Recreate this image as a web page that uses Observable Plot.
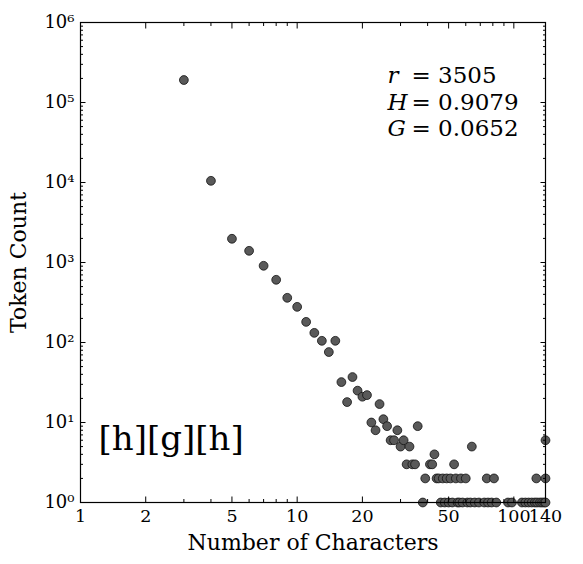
<!DOCTYPE html>
<html><head><meta charset="utf-8">
<script src="https://cdn.jsdelivr.net/npm/d3@7"></script>
<script src="https://cdn.jsdelivr.net/npm/@observablehq/plot@0.6"></script>
<style>html,body{margin:0;padding:0;background:#fff}svg{display:block}</style>
</head><body><div id="chart"></div>
<script>
// Data: number of characters vs token count
const charLengths = [3,4,5,6,7,8,9,10,11,12,13,14,15,16,17,18,19,20,21,22,23,24,25,26,27,28,29,30,31,32,33,34,35,36,
  38,39,41,42,43,44,45,46,47,48,49,50,51,52,53,54,55,56,57,58,60,61,63,64,66,69,73,75,76,79,81,83,94,98,109,113,117,121,125,127,128,132,135,138,140,140,140];
const tokenCounts = [191000,10500,1980,1400,910,608,362,279,181,132,105,76,105,32,18,37,25,21,22,10,8,17,11,9,6,6,8,5,6,3,5,3,3,9,
  1,2,3,3,4,2,2,1,2,1,2,1,2,1,3,2,1,1,2,1,2,1,1,5,1,1,1,2,1,1,2,1,1,1,1,1,1,1,1,2,1,1,1,1,1,2,6];

const xMajorTicks = [1,2,5,10,20,50,100,140];
const xMinorTicks = [3,4,6,7,8,9,30,40,60,70,80,90];
const yMajorTicks = [1,10,100,1000,10000,100000,1000000];
const yMinorTicks = [1,10,100,1000,10000,100000].flatMap(d => [2,3,4,5,6,7,8,9].map(k => k*d));

const statNames = ["r","H","G"];
const statValues = ["3505","0.9079","0.0652"];
const panelLabel = "[h][g][h]";
const xLabel = "Number of Characters";
const yLabel = "Token Count";

const points = charLengths.map((x,i) => ({x, y: tokenCounts[i]}));
const sup = {"0":"\u2070","1":"\u00B9","2":"\u00B2","3":"\u00B3","4":"\u2074","5":"\u2075","6":"\u2076","7":"\u2077","8":"\u2078","9":"\u2079"};
const fmtPow = d => "10" + String(Math.round(Math.log10(d))).split("").map(c => sup[c]).join("");

const chart = Plot.plot({
  width: 583, height: 564,
  marginLeft: 80, marginRight: 38, marginTop: 22, marginBottom: 62,
  style: {fontFamily: "DejaVu Serif", background: "#fff", color: "#000"},
  x: {type: "log", domain: [1,140]},
  y: {type: "log", domain: [1,1e6]},
  marks: [
    Plot.dot(points, {x: "x", y: "y", r: 4.4, fill: "#595959", stroke: "#111", strokeWidth: 0.8}),
    Plot.frame({stroke: "#000", strokeWidth: 1.2}),
    // major/minor inward ticks
    Plot.axisX({anchor: "bottom", ticks: xMajorTicks, tickSize: -5.5, tickFormat: () => "", label: null}),
    Plot.axisX({anchor: "top", ticks: xMajorTicks, tickSize: -5.5, tickFormat: () => "", label: null}),
    Plot.axisX({anchor: "bottom", ticks: xMinorTicks, tickSize: -3, tickFormat: () => "", label: null}),
    Plot.axisX({anchor: "top", ticks: xMinorTicks, tickSize: -3, tickFormat: () => "", label: null}),
    Plot.axisY({anchor: "left", ticks: yMajorTicks, tickSize: -5.5, tickFormat: () => "", label: null}),
    Plot.axisY({anchor: "right", ticks: yMajorTicks, tickSize: -5.5, tickFormat: () => "", label: null}),
    Plot.axisY({anchor: "left", ticks: yMinorTicks, tickSize: -3, tickFormat: () => "", label: null}),
    Plot.axisY({anchor: "right", ticks: yMinorTicks, tickSize: -3, tickFormat: () => "", label: null}),
    // tick labels
    Plot.axisX({anchor: "bottom", ticks: xMajorTicks, tickSize: 0, tickPadding: 7, tickFormat: d => String(d), fontSize: 17.5, label: null}),
    Plot.axisY({anchor: "left", ticks: yMajorTicks, tickSize: 0, tickPadding: 6, tickFormat: fmtPow, fontSize: 18, label: null}),
    // axis titles
    Plot.text([xLabel], {frameAnchor: "bottom", text: d => d, dy: 47, lineAnchor: "bottom", textAnchor: "middle", fontSize: 22}),
    Plot.text([yLabel], {frameAnchor: "left", text: d => d, dx: -62, rotate: -90, textAnchor: "middle", lineAnchor: "middle", fontSize: 22}),
    // stats annotation
    Plot.text([statNames.join("\n")], {frameAnchor: "top-left", text: d => d, dx: 307, dy: 41, lineAnchor: "top", textAnchor: "start", fontStyle: "italic", fontSize: 23, lineHeight: 1.17}),
    Plot.text([statValues.map(v => "= " + v).join("\n")], {frameAnchor: "top-left", text: d => d, dx: 331, dy: 41, lineAnchor: "top", textAnchor: "start", fontSize: 23, lineHeight: 1.17}),
    // panel label
    Plot.text([panelLabel], {frameAnchor: "bottom-left", text: d => d, dx: 18, dy: -53, lineAnchor: "bottom", textAnchor: "start", fontSize: 34})
  ]
});
document.getElementById("chart").appendChild(chart);
</script>
</body></html>
